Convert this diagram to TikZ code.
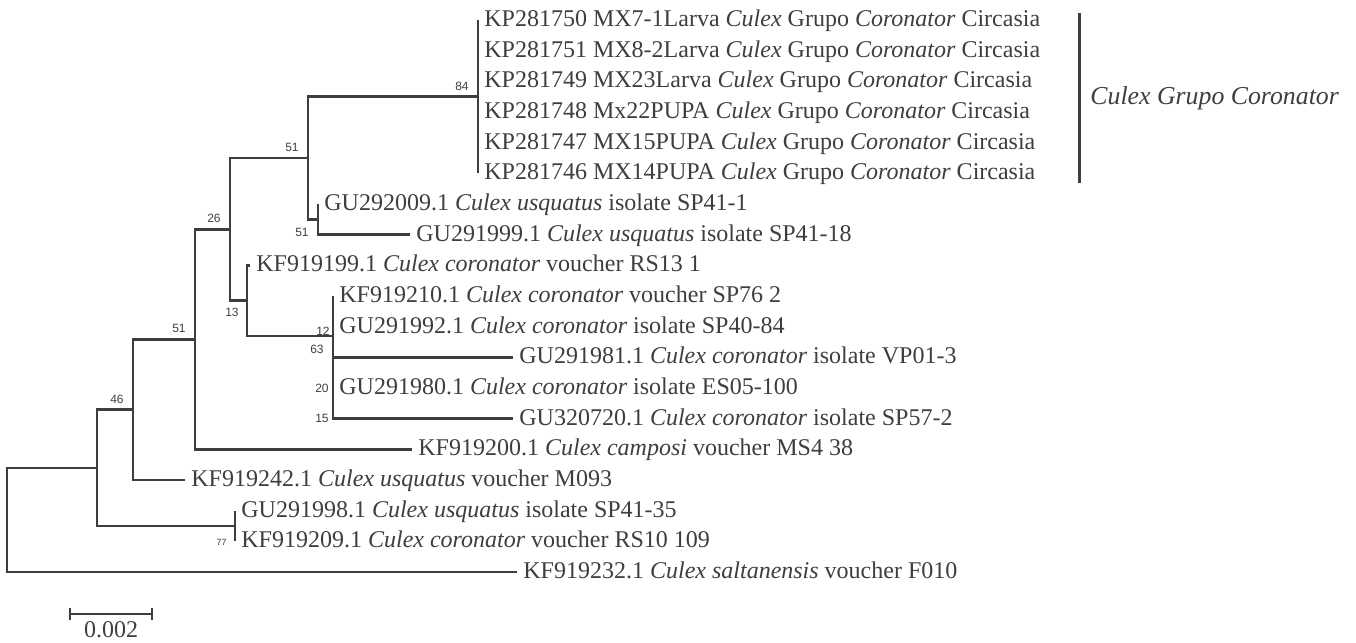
\documentclass[tikz,border=0pt]{standalone}
\usepackage{fontspec}
\setmainfont{Liberation Serif}
\newfontfamily\bootfont{Liberation Sans}
\usetikzlibrary{positioning}
\definecolor{treegray}{RGB}{62,62,62}
\tikzset{
  leaf/.style={anchor=west, inner sep=3pt, text height=0.66em, text depth=0pt,
    font=\fontsize{12}{14}\selectfont, text=treegray},
  boot/.style={inner sep=0pt, font=\bootfont\fontsize{6}{7}\selectfont, text=treegray},
  branch/.style={draw=treegray, line width=1.3pt},
}
\begin{document}
\begin{tikzpicture}[x=0.5pt, y=-0.5pt]
    \useasboundingbox (0,0) rectangle (1356,643);

    %Inner nodes
    \coordinate (root)  at (7,520);
    \coordinate (nbase) at (97,467.8);
    \coordinate (n46)   at (133,409.7);
    \coordinate (n51c)  at (195,339.3);
    \coordinate (n26)   at (230,229.3);
    \coordinate (n51a)  at (308,158);
    \coordinate (n84)   at (478,96.7);
    \coordinate (n51b)  at (318,219.3);
    \coordinate (n13)   at (247,300.7);
    \coordinate (n63)   at (333,336);
    \coordinate (n77)   at (235,526);

    %Leaves
    \node[leaf] at (478,20)    (kp750)  {KP281750 MX7-1Larva \textit{Culex} Grupo \textit{Coronator} Circasia};
    \node[leaf] at (478,50.7)  (kp751)  {KP281751 MX8-2Larva \textit{Culex} Grupo \textit{Coronator} Circasia};
    \node[leaf] at (478,81.3)  (kp749)  {KP281749 MX23Larva \textit{Culex} Grupo \textit{Coronator} Circasia};
    \node[leaf] at (478,112)   (kp748)  {KP281748 Mx22PUPA \textit{Culex} Grupo \textit{Coronator} Circasia};
    \node[leaf] at (478,142.7) (kp747)  {KP281747 MX15PUPA \textit{Culex} Grupo \textit{Coronator} Circasia};
    \node[leaf] at (478,173.3) (kp746)  {KP281746 MX14PUPA \textit{Culex} Grupo \textit{Coronator} Circasia};
    \node[leaf] at (318,204)   (gu2009) {GU292009.1 \textit{Culex usquatus} isolate SP41-1};
    \node[leaf] at (410,234.7) (gu1999) {GU291999.1 \textit{Culex usquatus} isolate SP41-18};
    \node[leaf] at (250,265.3) (kf199)  {KF919199.1 \textit{Culex coronator} voucher RS13 1};
    \node[leaf] at (333,296)   (kf210)  {KF919210.1 \textit{Culex coronator} voucher SP76 2};
    \node[leaf] at (333,326.7) (gu1992) {GU291992.1 \textit{Culex coronator} isolate SP40-84};
    \node[leaf] at (513,357.3) (gu1981) {GU291981.1 \textit{Culex coronator} isolate VP01-3};
    \node[leaf] at (333,388)   (gu1980) {GU291980.1 \textit{Culex coronator} isolate ES05-100};
    \node[leaf] at (513,418.7) (gu0720) {GU320720.1 \textit{Culex coronator} isolate SP57-2};
    \node[leaf] at (412,449.3) (kf200)  {KF919200.1 \textit{Culex camposi} voucher MS4 38};
    \node[leaf] at (185,480)   (kf242)  {KF919242.1 \textit{Culex usquatus} voucher M093};
    \node[leaf] at (235,510.7) (gu1998) {GU291998.1 \textit{Culex usquatus} isolate SP41-35};
    \node[leaf] at (235,541.3) (kf209)  {KF919209.1 \textit{Culex coronator} voucher RS10 109};
    \node[leaf] at (517,572)   (kf232)  {KF919232.1 \textit{Culex saltanensis} voucher F010};

    %Support values
    \coordinate (c15) at (n63 |- gu0720.west);
    \node[boot, above left=3pt and 4.5pt of n84]  {84};
    \node[boot, above left=3pt and 4.5pt of n51a] {51};
    \node[boot, below left=4.5pt and 4.5pt of n51b] {51};
    \node[boot, above left=3pt and 4.5pt of n26]  {26};
    \node[boot, below left=3.5pt and 4pt of n13]  {13};
    \node[boot, above left=0pt and 1.5pt of n63]  {12};
    \node[boot, below left=4.5pt and 4.5pt of n63] {63};
    \node[boot, left=2pt of gu1980.west]          {20};
    \node[boot, left=2pt of c15]                  {15};
    \node[boot, above left=3pt and 4.5pt of n51c] {51};
    \node[boot, above left=3pt and 4.5pt of n46]  {46};
    \node[boot, font=\bootfont\fontsize{4.5}{5}\selectfont, below left=6.5pt and 4pt of n77] {77};

    %Lines
    \draw[branch] (root)  |- (nbase);
    \draw[branch] (root)  |- (kf232.west);
    \draw[branch] (nbase) |- (n46);
    \draw[branch] (nbase) |- (n77);
    \draw[branch] (n77)   |- (gu1998.west);
    \draw[branch] (n77)   |- (kf209.west);
    \draw[branch] (n46)   |- (n51c);
    \draw[branch] (n46)   |- (kf242.west);
    \draw[branch] (n51c)  |- (n26);
    \draw[branch] (n51c)  |- (kf200.west);
    \draw[branch] (n26)   |- (n51a);
    \draw[branch] (n26)   |- (n13);
    \draw[branch] (n51a)  |- (n84);
    \draw[branch] (n51a)  |- (n51b);
    \draw[branch] (n51b)  |- (gu2009.west);
    \draw[branch] (n51b)  |- (gu1999.west);
    \draw[branch] (n13)   |- (kf199.west);
    \draw[branch] (n13)   |- (n63);
    \draw[branch] (n63)   |- (kf210.west);
    \draw[branch] (n63)   |- (gu1992.west);
    \draw[branch] (n63)   |- (gu1981.west);
    \draw[branch] (n63)   |- (gu1980.west);
    \draw[branch] (n63)   |- (gu0720.west);
    \foreach \k in {kp750,kp751,kp749,kp748,kp747,kp746}
        \draw[branch] (n84) |- (\k.west);

    %Clade bar
    \coordinate (cbtop) at (1079,13);
    \coordinate (cbbot) at (1079,183);
    \draw[treegray, line width=1.5pt] (cbtop) -- (cbbot);
    \node[leaf, inner sep=0pt, font=\fontsize{12.9}{15}\selectfont] at (1090,98) (clade) {\textit{Culex Grupo Coronator}};

    %Scale bar
    \coordinate (sbl) at (70,614);
    \coordinate (sbr) at (152,614);
    \draw[treegray, line width=0.75pt] (sbl) -- (sbr);
    \draw[treegray, line width=0.75pt] (sbl) ++(0,-6) -- ++(0,12);
    \draw[treegray, line width=0.75pt] (sbr) ++(0,-6) -- ++(0,12);
    \node[inner sep=0pt, text=treegray, font=\fontsize{12}{14}\selectfont] at (111,630) (sbtext) {0.002};
\end{tikzpicture}
\end{document}
